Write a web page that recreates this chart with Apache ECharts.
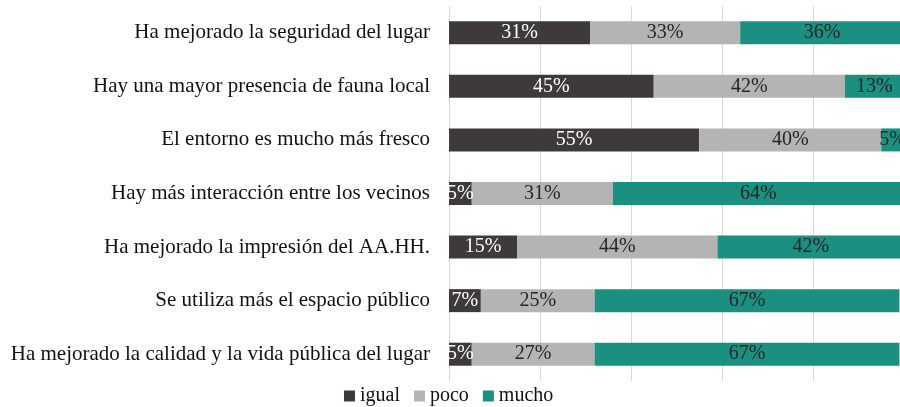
<!DOCTYPE html>
<html>
<head>
<meta charset="utf-8">
<script src="https://cdn.jsdelivr.net/npm/echarts@6/dist/echarts.min.js"></script>
<style>
  html, body { margin: 0; padding: 0; background: #fff; }
  #chart { width: 900px; height: 407px; }
</style>
</head>
<body>
<div id="chart"></div>
<script>
// categorías (de arriba a abajo)
const categories = [
  'Ha mejorado la seguridad del lugar',
  'Hay una mayor presencia de fauna local',
  'El entorno es mucho más fresco',
  'Hay más interacción entre los vecinos',
  'Ha mejorado la impresión del AA.HH.',
  'Se utiliza más el espacio público',
  'Ha mejorado la calidad y la vida pública del lugar'
];
const igual = [31, 45, 55, 5, 15, 7, 5];
const poco = [33, 42, 40, 31, 44, 25, 27];
const mucho = [36, 13, 5, 64, 42, 67, 67];

const FONT = '"Liberation Serif", "DejaVu Serif", serif';

const chart = echarts.init(document.getElementById('chart'));

function barSeries(name, data, color, labelColor) {
  return {
    name: name,
    type: 'bar',
    stack: 'total',
    data: data,
    barWidth: 23,
    itemStyle: { color: color },
    label: {
      show: true,
      position: 'inside',
      formatter: '{c}%',
      color: labelColor,
      fontFamily: FONT,
      fontSize: 20
    }
  };
}

chart.setOption({
  animation: false,
  grid: {
    left: 449,
    width: 455,
    top: 6,
    bottom: 26,
    outerBoundsMode: 'none',
    containLabel: false
  },
  legend: {
    top: 381,
    left: 339,
    itemWidth: 11,
    itemHeight: 11,
    itemGap: 14,
    icon: 'rect',
    textStyle: { fontFamily: FONT, fontSize: 20, color: '#111' },
    data: ['igual', 'poco', 'mucho']
  },
  xAxis: {
    type: 'value',
    min: 0,
    max: 100,
    interval: 20,
    axisLabel: { show: false },
    axisLine: { show: false },
    axisTick: { show: false },
    splitLine: { show: true, lineStyle: { color: '#d9d9d9', width: 1 } }
  },
  yAxis: {
    type: 'category',
    inverse: true,
    data: categories,
    axisLine: { show: false },
    axisTick: { show: false },
    axisLabel: {
      margin: 19,
      fontFamily: FONT,
      fontSize: 21,
      color: '#111'
    }
  },
  series: [
    barSeries('igual', igual, '#3e3a3b', '#ffffff'),
    barSeries('poco', poco, '#b4b4b4', '#262626'),
    barSeries('mucho', mucho, '#1b8f80', '#262626')
  ]
});
</script>
</body>
</html>
